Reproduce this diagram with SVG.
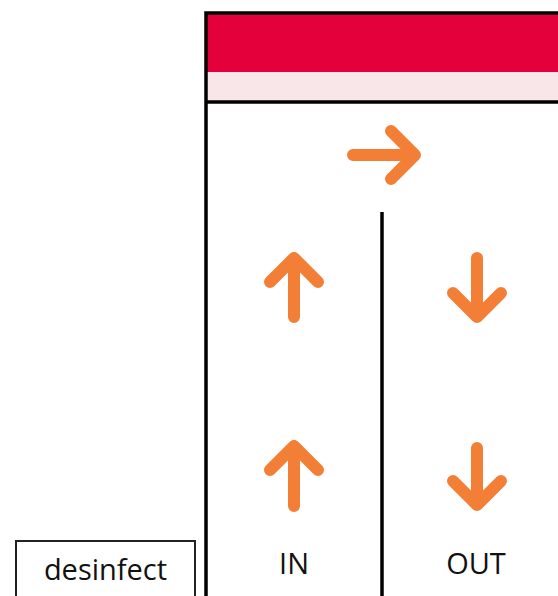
<svg xmlns="http://www.w3.org/2000/svg" width="558" height="596" viewBox="0 0 558 596">
<style>
.arr{fill:none;stroke:#F37F37;stroke-width:12;stroke-linecap:round;stroke-linejoin:round}
.ln{stroke:#000;stroke-width:3.5;fill:none}
.t{font-family:"Open Sans","Noto Sans",sans-serif;font-size:29px;fill:#111}
</style>
<rect width="558" height="596" fill="#fff"/>
<g id="header">
<rect x="206" y="13" width="360" height="59" fill="#E4003A"/>
<rect x="206" y="72" width="360" height="30" fill="#F8E6E8"/>
<path class="ln" d="M206,596 V13 H560 M206,102 H560"/>
</g>
<g id="divider">
<line class="ln" x1="382" y1="212" x2="382" y2="596" stroke-width="3.2"/>
</g>
<g id="connectors">
<path class="arr" d="M353,155 H415 M391,131 L415,155 L391,179"/>
<path class="arr" d="M294,317 V258 M270,282 L294,258 L318,282"/>
<path class="arr" d="M477,258 V317 M453,293 L477,317 L501,293"/>
<path class="arr" d="M294,506 V446 M270,470 L294,446 L318,470"/>
<path class="arr" d="M477,448 V505 M453,481 L477,505 L501,481"/>
</g>
<g id="desinfect">
<rect x="16" y="541" width="179" height="70" fill="#fff" stroke="#222" stroke-width="2"/>
<text class="t" x="105.5" y="580" text-anchor="middle">desinfect</text>
</g>
<g id="in"><text class="t" x="294" y="574" text-anchor="middle">IN</text></g>
<g id="out"><text class="t" x="476" y="574" text-anchor="middle">OUT</text></g>
</svg>
